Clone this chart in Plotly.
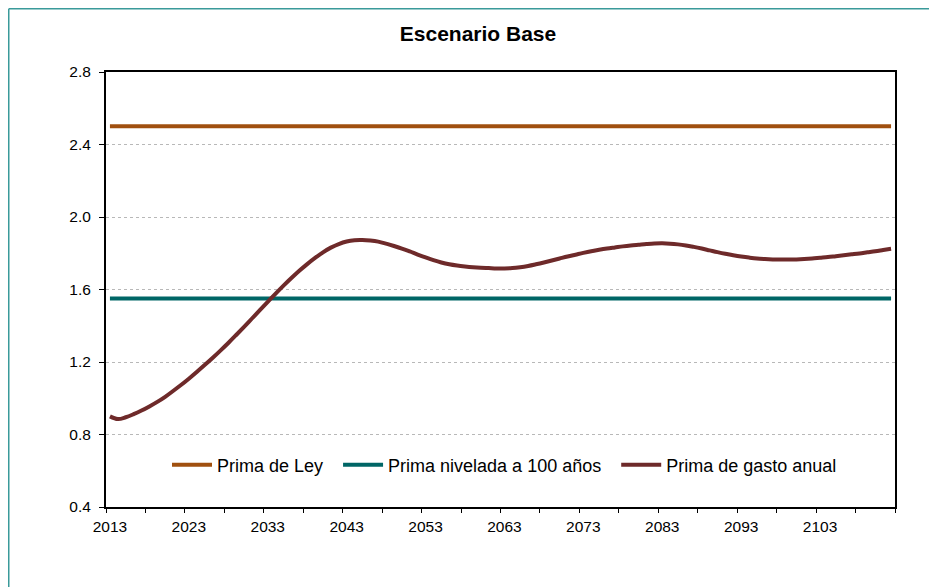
import plotly.graph_objects as go

years = list(range(2013, 2113))

prima_ley = 2.5
prima_nivelada = 1.55

prima_gasto_anual = [
    0.900, 0.885, 0.895, 0.912, 0.932, 0.955, 0.980, 1.008, 1.040, 1.073,
    1.108, 1.145, 1.183, 1.222, 1.263, 1.305, 1.349, 1.394, 1.440, 1.486,
    1.532, 1.577, 1.621, 1.663, 1.703, 1.740, 1.774, 1.805, 1.831, 1.851,
    1.865, 1.872, 1.873, 1.870, 1.864, 1.853, 1.840, 1.826, 1.810, 1.793,
    1.777, 1.762, 1.749, 1.739, 1.732, 1.727, 1.723, 1.720, 1.718, 1.716,
    1.716, 1.718, 1.723, 1.730, 1.739, 1.749, 1.760, 1.771, 1.782, 1.792,
    1.802, 1.811, 1.819, 1.826, 1.832, 1.838, 1.843, 1.847, 1.851, 1.854,
    1.855, 1.853, 1.849, 1.843, 1.835, 1.826, 1.816, 1.806, 1.797, 1.789,
    1.782, 1.776, 1.771, 1.768, 1.766, 1.765, 1.765, 1.766, 1.768, 1.771,
    1.775, 1.779, 1.784, 1.789, 1.794, 1.799, 1.805, 1.811, 1.818, 1.825,
]

label_years = list(range(2013, 2113, 10))
y_ticks = [0.4, 0.8, 1.2, 1.6, 2.0, 2.4, 2.8]

font = "Liberation Sans, Arial, sans-serif"

# the page body adds an 8px margin, so the figure is 8px smaller than the window
W, H = 929, 579
L, R, T, B = 98, 42, 64, 80
pw, ph = W - L - R, H - T - B

fig = go.Figure()

fig.add_trace(go.Scatter(
    x=years, y=[prima_ley] * len(years), mode="lines",
    name="Prima de Ley  ", line=dict(color="#A0500F", width=4),
))
fig.add_trace(go.Scatter(
    x=years, y=[prima_nivelada] * len(years), mode="lines",
    name="Prima nivelada a 100 años  ", line=dict(color="#006666", width=4),
))
fig.add_trace(go.Scatter(
    x=years, y=prima_gasto_anual, mode="lines",
    name="Prima de gasto anual", line=dict(color="#6E2A2A", width=4, shape="spline"),
))
# invisible trace on the second x axis so the tick marks show
fig.add_trace(go.Scatter(
    x=[years[0], years[-1]], y=[prima_ley, prima_ley], mode="lines",
    xaxis="x2", showlegend=False, hoverinfo="skip", line=dict(width=0),
))

fig.update_layout(
    width=W, height=H,
    margin=dict(l=L, r=R, t=T, b=B),
    paper_bgcolor="white", plot_bgcolor="white",
    font=dict(family=font, size=15.5, color="black"),
    title=dict(
        text="<b>Escenario Base</b>", font=dict(size=21, family=font),
        x=470 / W, xref="container", xanchor="center",
        y=1 - 26 / H, yref="container", yanchor="middle",
    ),
    xaxis=dict(
        range=[2012.5, 2112.5], tickvals=label_years, ticks="",
        showgrid=False, zeroline=False,
        showline=True, linecolor="black", linewidth=2, mirror=True,
        ticklabelstandoff=4,
    ),
    xaxis2=dict(
        overlaying="x", matches="x", side="bottom",
        tickvals=[2012.5 + 5 * k for k in range(21)],
        ticks="outside", ticklen=5, tickcolor="black", tickwidth=1,
        showticklabels=False, showgrid=False, zeroline=False, showline=False,
    ),
    yaxis=dict(
        range=[0.4, 2.8], tickvals=y_ticks, tickformat=".1f",
        ticks="outside", ticklen=5, tickcolor="black",
        showgrid=True, gridcolor="#B8B8B8", griddash="dot", gridwidth=1,
        zeroline=False,
        showline=True, linecolor="black", linewidth=2, mirror=True,
        ticklabelstandoff=5,
    ),
    legend=dict(
        orientation="h", x=0.5 + 4 / pw, xanchor="center",
        y=42 / ph, yanchor="middle", itemwidth=40,
        font=dict(size=18, family=font), bgcolor="rgba(0,0,0,0)",
    ),
    showlegend=True,
)

# outer chart frame (teal) along the figure's left and top edges
fx0 = (0.75 - L) / pw
fy0 = 1 + (T - 0.75) / ph
fig.add_shape(type="line", xref="paper", yref="paper",
              x0=fx0, x1=(W - L) / pw, y0=fy0, y1=fy0,
              line=dict(color="#3A9A9A", width=1.5))
fig.add_shape(type="line", xref="paper", yref="paper",
              x0=fx0, x1=fx0, y0=fy0, y1=-B / ph,
              line=dict(color="#3A9A9A", width=1.5))

fig.write_html("out.html")
